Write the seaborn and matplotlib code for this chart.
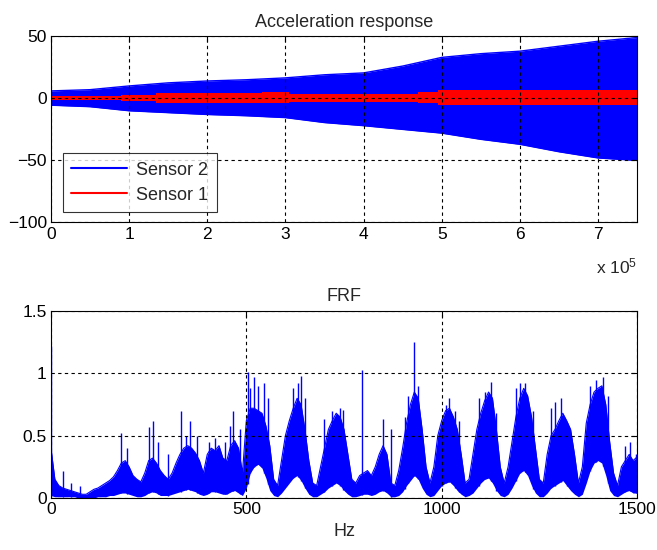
import numpy as np
import pandas as pd
import matplotlib
matplotlib.use("Agg")
import matplotlib.pyplot as plt
import seaborn as sns
from matplotlib.lines import Line2D
from matplotlib.ticker import FuncFormatter

sns.set_style("white")
plt.rcParams['font.family'] = ['Liberation Sans', 'DejaVu Sans']
plt.rcParams['mathtext.default'] = 'regular'

# acceleration response envelopes, sample index
acc_x = [0, 0.5e5, 1e5, 1.5e5, 2e5, 2.5e5, 3e5, 3.5e5, 4e5, 4.5e5, 5e5, 5.5e5, 6e5, 6.5e5, 7e5, 7.5e5]
s2_upper = [6, 7, 10, 12.5, 14, 15, 16.5, 19, 20.5, 26, 33, 36, 38, 42, 46, 49]
s2_lower = [-5.5, -6.7, -10, -11.5, -13, -14, -15.5, -19.5, -22, -25, -28, -33, -37, -43, -48, -50]

# sensor 1 is step-like
s1_x = [0, 0.9e5, 1.35e5, 2.7e5, 3.05e5, 4.7e5, 4.95e5, 7.5e5]
s1_upper = [1.8, 3, 4, 5, 3.5, 4.8, 6.5, 6.5]
s1_lower = [-1.6, -2.4, -3.5, -3.5, -3, -4, -5, -5]

# FRF body (10 Hz steps)
frf_hz = list(range(0, 1501, 10))
frf_top = [0.40, 0.15, 0.10, 0.08, 0.07, 0.06, 0.05, 0.04, 0.03, 0.03,
           0.05, 0.07, 0.08, 0.10, 0.12, 0.14, 0.17, 0.22, 0.28, 0.30,
           0.25, 0.18, 0.15, 0.13, 0.20, 0.30, 0.32, 0.28, 0.22, 0.18,
           0.15, 0.20, 0.28, 0.35, 0.40, 0.42, 0.40, 0.36, 0.30, 0.20,
           0.35, 0.40, 0.38, 0.42, 0.32, 0.30, 0.42, 0.46, 0.40, 0.20,
           0.62, 0.72, 0.72, 0.70, 0.68, 0.58, 0.42, 0.15, 0.10, 0.30,
           0.50, 0.62, 0.72, 0.80, 0.75, 0.55, 0.30, 0.12, 0.10, 0.25,
           0.40, 0.55, 0.62, 0.68, 0.65, 0.55, 0.35, 0.15, 0.12, 0.18,
           0.20, 0.22, 0.18, 0.25, 0.35, 0.42, 0.35, 0.12, 0.10, 0.22,
           0.40, 0.60, 0.75, 0.85, 0.80, 0.55, 0.25, 0.12, 0.25, 0.50,
           0.62, 0.70, 0.72, 0.65, 0.55, 0.35, 0.12, 0.15, 0.35, 0.55,
           0.68, 0.78, 0.85, 0.80, 0.55, 0.25, 0.12, 0.25, 0.45, 0.65,
           0.80, 0.88, 0.82, 0.65, 0.40, 0.15, 0.12, 0.35, 0.50, 0.55,
           0.62, 0.68, 0.62, 0.55, 0.35, 0.12, 0.25, 0.60, 0.75, 0.85,
           0.88, 0.90, 0.75, 0.45, 0.20, 0.10, 0.25, 0.30, 0.35, 0.30,
           0.33]
frf_low = [0.02, 0.01, 0.01, 0.01, 0.01, 0.01, 0.01, 0.00, 0.00, 0.00,
           0.00, 0.00, 0.01, 0.01, 0.01, 0.02, 0.02, 0.03, 0.04, 0.04,
           0.03, 0.02, 0.01, 0.01, 0.02, 0.04, 0.05, 0.04, 0.02, 0.02,
           0.02, 0.03, 0.04, 0.05, 0.06, 0.07, 0.06, 0.05, 0.03, 0.02,
           0.03, 0.05, 0.05, 0.04, 0.03, 0.03, 0.05, 0.06, 0.04, 0.02,
           0.08, 0.20, 0.25, 0.27, 0.24, 0.16, 0.06, 0.02, 0.01, 0.04,
           0.08, 0.12, 0.16, 0.18, 0.14, 0.08, 0.03, 0.01, 0.01, 0.03,
           0.05, 0.08, 0.10, 0.12, 0.10, 0.06, 0.03, 0.01, 0.01, 0.02,
           0.03, 0.03, 0.02, 0.03, 0.05, 0.06, 0.04, 0.01, 0.01, 0.02,
           0.05, 0.10, 0.14, 0.18, 0.15, 0.08, 0.03, 0.01, 0.02, 0.06,
           0.10, 0.12, 0.13, 0.10, 0.06, 0.03, 0.01, 0.02, 0.04, 0.08,
           0.12, 0.15, 0.16, 0.12, 0.06, 0.02, 0.01, 0.03, 0.08, 0.14,
           0.20, 0.22, 0.18, 0.10, 0.04, 0.01, 0.01, 0.04, 0.08, 0.10,
           0.12, 0.14, 0.10, 0.06, 0.03, 0.01, 0.03, 0.12, 0.22, 0.28,
           0.30, 0.28, 0.18, 0.06, 0.02, 0.01, 0.03, 0.05, 0.06, 0.04,
           0.04]

# tall spikes sticking out of the body
spike_hz = [0, 30, 50, 75, 180, 195, 250, 262, 275, 300, 332, 345, 357, 375,
            405, 420, 445, 458, 466, 485, 503, 510, 520, 530, 545, 555,
            620, 632, 640, 650, 700, 720, 740, 748, 797, 850, 870, 905, 915,
            930, 940, 1000, 1012, 1020, 1035, 1045, 1095, 1110, 1125, 1140,
            1190, 1200, 1212, 1235, 1280, 1290, 1305, 1320, 1380, 1395, 1412,
            1425, 1470, 1482, 1497]
spike_val = [1.22, 0.22, 0.12, 0.10, 0.52, 0.40, 0.57, 0.62, 0.45, 0.35, 0.70,
             0.50, 0.62, 0.50, 0.45, 0.48, 0.45, 0.58, 0.70, 0.55, 1.01, 0.88,
             0.97, 0.90, 0.92, 0.80, 0.88, 0.92, 0.98, 0.80, 0.63, 0.70, 0.72,
             0.71, 1.03, 0.63, 0.55, 0.65, 0.82, 1.25, 0.90, 0.60, 0.75, 0.80,
             0.70, 0.62, 0.80, 0.85, 0.93, 0.68, 0.88, 0.92, 0.92, 0.70, 0.72,
             0.77, 0.80, 0.60, 0.90, 0.95, 0.97, 0.82, 0.42, 0.45, 0.35]

blue = (0, 0, 1)
red = (1, 0, 0)

fig = plt.figure(figsize=(6.57, 5.5), dpi=100)
ax1 = fig.add_axes([0.0776, 0.5955, 0.892, 0.3385])
ax2 = fig.add_axes([0.0776, 0.0945, 0.892, 0.340])


def matlab_axes(ax):
    ax.grid(True, color='black', linestyle=(0, (3, 3)), linewidth=0.8)
    ax.tick_params(direction='in', length=4, width=0.8, top=True, right=True,
                   labelsize=12.5, colors='black', pad=3)
    for s in ax.spines.values():
        s.set_color('black')
        s.set_linewidth(0.8)
    ax.set_axisbelow(False)


# acceleration response
ax1.fill_between(acc_x, s2_lower, s2_upper, color=blue, linewidth=0)
sns.lineplot(x=acc_x, y=s2_upper, ax=ax1, color=blue, linewidth=1)
sns.lineplot(x=acc_x, y=s2_lower, ax=ax1, color=blue, linewidth=1)
ax1.fill_between(s1_x, s1_lower, s1_upper, step='post', color=red, linewidth=0)
ax1.set_xlim(0, 7.5e5)
ax1.set_ylim(-100, 50)
ax1.set_xticks([0, 1e5, 2e5, 3e5, 4e5, 5e5, 6e5, 7e5])
ax1.xaxis.set_major_formatter(FuncFormatter(lambda v, p: "%d" % round(v / 1e5)))
ax1.set_yticks([-100, -50, 0, 50])
matlab_axes(ax1)
ax1.set_title("Acceleration response", fontsize=13, pad=7)
ax1.text(1.0, -0.235, "x 10$^{5}$", transform=ax1.transAxes, ha='right',
         va='center', fontsize=12.5)
handles = [Line2D([0], [0], color=blue, lw=1.5), Line2D([0], [0], color=red, lw=1.5)]
leg = ax1.legend(handles, ["Sensor 2", "Sensor 1"], loc='lower left',
                 bbox_to_anchor=(0.021, 0.057), fontsize=13, handlelength=3.1,
                 frameon=True, fancybox=False, borderpad=0.45, labelspacing=0.45,
                 handletextpad=0.5, borderaxespad=0)
leg.get_frame().set_edgecolor('black')
leg.get_frame().set_linewidth(0.8)

# FRF
frf = pd.DataFrame({"Hz": frf_hz, "top": frf_top, "low": frf_low})
ax2.fill_between(frf["Hz"], frf["low"], frf["top"], color=blue, linewidth=0)
sns.lineplot(data=frf, x="Hz", y="top", ax=ax2, color=blue, linewidth=0.8)
spike_base = np.interp(spike_hz, frf_hz, frf_low)
ax2.vlines(spike_hz, spike_base, spike_val, color=blue, linewidth=1)
ax2.set_xlim(0, 1500)
ax2.set_ylim(0, 1.5)
ax2.set_xticks([0, 500, 1000, 1500])
ax2.set_yticks([0, 0.5, 1, 1.5])
ax2.set_yticklabels(["0", "0.5", "1", "1.5"])
matlab_axes(ax2)
ax2.set_title("FRF", fontsize=13, pad=7)
ax2.set_xlabel("Hz", fontsize=13, labelpad=4)
ax2.set_ylabel("")

fig.savefig("out.png", dpi=100, facecolor='white')
